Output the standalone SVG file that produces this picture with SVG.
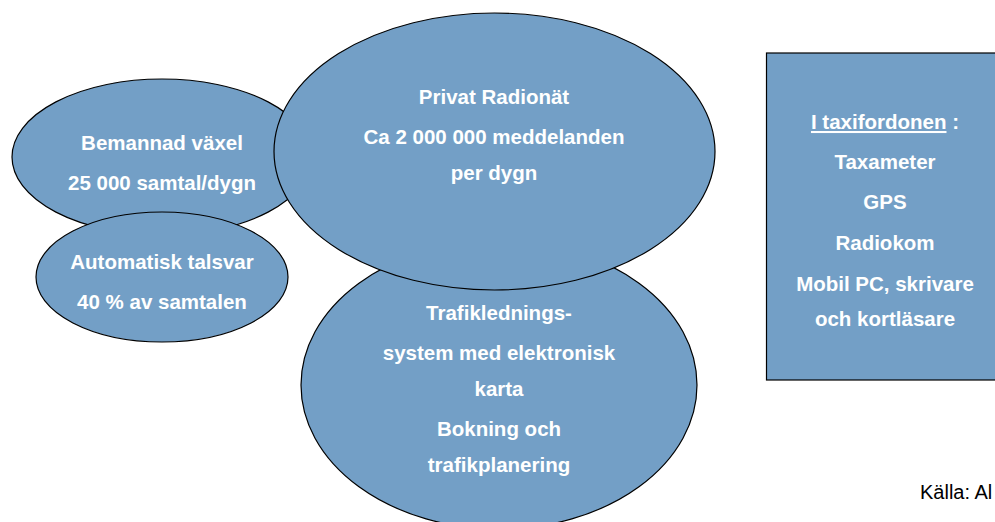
<svg xmlns="http://www.w3.org/2000/svg" width="995" height="522" viewBox="0 0 995 522">
<style>
.node{fill:#739fc6;stroke:#000;stroke-width:1.2}
.lbl{font-family:"Liberation Sans",Arial,sans-serif;font-weight:bold;font-size:20.5px;fill:#fff;text-anchor:middle}
.src{font-family:"Liberation Sans",Arial,sans-serif;font-size:20px;fill:#000}
</style>
<rect width="995" height="522" fill="#fff"/>
<g id="connectors"></g>
<g id="bemannad">
<ellipse class="node" cx="162" cy="157" rx="150" ry="78"/>
<text class="lbl" x="162" y="150">Bemannad växel</text>
<text class="lbl" x="162" y="190">25 000 samtal/dygn</text>
</g>
<g id="automatisk">
<ellipse class="node" cx="162" cy="277" rx="126" ry="65"/>
<text class="lbl" x="162" y="269">Automatisk talsvar</text>
<text class="lbl" x="162" y="309">40 % av samtalen</text>
</g>
<g id="trafik">
<ellipse class="node" cx="499" cy="385" rx="198" ry="144"/>
<text class="lbl" x="499" y="320">Trafiklednings-</text>
<text class="lbl" x="499" y="360">system med elektronisk</text>
<text class="lbl" x="499" y="396">karta</text>
<text class="lbl" x="499" y="436">Bokning och</text>
<text class="lbl" x="499" y="472">trafikplanering</text>
</g>
<g id="radionat">
<ellipse class="node" cx="494.5" cy="151.5" rx="220.5" ry="138.5"/>
<text class="lbl" x="494" y="104">Privat Radionät</text>
<text class="lbl" x="494" y="144">Ca 2 000 000 meddelanden</text>
<text class="lbl" x="494" y="180">per dygn</text>
</g>
<g id="taxifordon">
<rect class="node" x="766.5" y="53" width="240" height="327" stroke-width="1.5"/>
<text class="lbl" x="885" y="129"><tspan text-decoration="underline">I taxifordonen</tspan> :</text>
<text class="lbl" x="885" y="169">Taxameter</text>
<text class="lbl" x="885" y="209">GPS</text>
<text class="lbl" x="885" y="250">Radiokom</text>
<text class="lbl" x="885" y="291">Mobil PC, skrivare</text>
<text class="lbl" x="885" y="326">och kortläsare</text>
</g>
<text class="src" x="920" y="499">Källa: Al</text>
</svg>
